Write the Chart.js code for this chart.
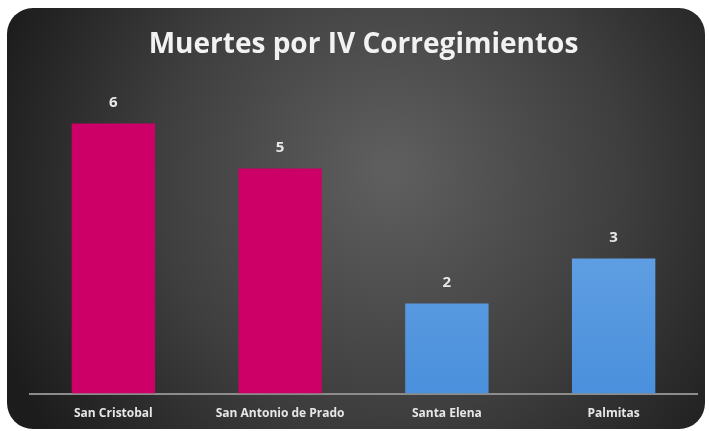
<!DOCTYPE html>
<html lang="es">
<head>
  <meta charset="UTF-8">
  <title>Muertes por IV Corregimientos</title>
  <script src="https://cdn.jsdelivr.net/npm/chart.js"></script>
</head>
<body style="margin:0;background:#fff;">
  <div style="width:709px;height:431px;position:relative;">
    <canvas id="chart" width="709" height="431"></canvas>
  </div>
  <script>
    // data
    const categories = ['San Cristobal', 'San Antonio de Prado', 'Santa Elena', 'Palmitas'];
    const deaths = [6, 5, 2, 3];
    const barKind = ['pink', 'pink', 'blue', 'blue'];

    // dark rounded panel with a soft radial light behind the chart
    const panelBg = {
      id: 'panelBg',
      beforeDraw(chart) {
        const c = chart.ctx;
        const x = 7, y = 8, w = 698, h = 421, r = 26;
        c.save();
        const g = c.createRadialGradient(390, 170, 10, 390, 190, 420);
        g.addColorStop(0, '#5e5e5e');
        g.addColorStop(0.55, '#3e3e3e');
        g.addColorStop(1, '#1c1c1c');
        c.fillStyle = g;
        c.beginPath();
        c.moveTo(x + r, y);
        c.arcTo(x + w, y, x + w, y + h, r);
        c.arcTo(x + w, y + h, x, y + h, r);
        c.arcTo(x, y + h, x, y, r);
        c.arcTo(x, y, x + w, y, r);
        c.closePath();
        c.fill();
        c.restore();
      }
    };

    // value labels above each bar
    const valueLabels = {
      id: 'valueLabels',
      afterDatasetsDraw(chart) {
        const c = chart.ctx;
        const meta = chart.getDatasetMeta(0);
        c.save();
        c.fillStyle = '#e8e8e8';
        c.font = 'bold 15px "Open Sans", sans-serif';
        c.textAlign = 'center';
        c.textBaseline = 'middle';
        meta.data.forEach((bar, i) => {
          c.fillText(deaths[i], bar.x, bar.y - 21);
        });
        c.restore();
      }
    };

    function barColor(ctx) {
      const area = ctx.chart.chartArea;
      if (barKind[ctx.dataIndex] === 'pink') return '#cc0066';
      if (!area) return '#5a9de0';
      const g = ctx.chart.ctx.createLinearGradient(0, area.top, 0, area.bottom);
      g.addColorStop(0, '#7ab0ea');
      g.addColorStop(1, '#4a90dc');
      return g;
    }

    new Chart(document.getElementById('chart'), {
      type: 'bar',
      data: {
        labels: categories,
        datasets: [{
          data: deaths,
          backgroundColor: barColor,
          borderWidth: 0,
          categoryPercentage: 1,
          barPercentage: 0.5
        }]
      },
      options: {
        responsive: false,
        animation: false,
        layout: { padding: { left: 30, right: 12, top: 12, bottom: -3 } },
        plugins: {
          legend: { display: false },
          tooltip: { enabled: false },
          title: {
            display: true,
            text: 'Muertes por IV Corregimientos',
            color: '#f2f2f2',
            font: { family: '"Open Sans", sans-serif', size: 28, weight: 'bold' },
            padding: { top: 16, bottom: 17 }
          }
        },
        scales: {
          x: {
            grid: { display: false, drawTicks: false },
            border: { color: '#8c8c8c', width: 2 },
            ticks: {
              color: '#e6e6e6',
              padding: 13,
              maxRotation: 0,
              font: { family: '"Open Sans", sans-serif', size: 12, weight: 'bold' }
            }
          },
          y: {
            display: false,
            min: 0,
            max: 7
          }
        }
      },
      plugins: [panelBg, valueLabels]
    });
  </script>
</body>
</html>
